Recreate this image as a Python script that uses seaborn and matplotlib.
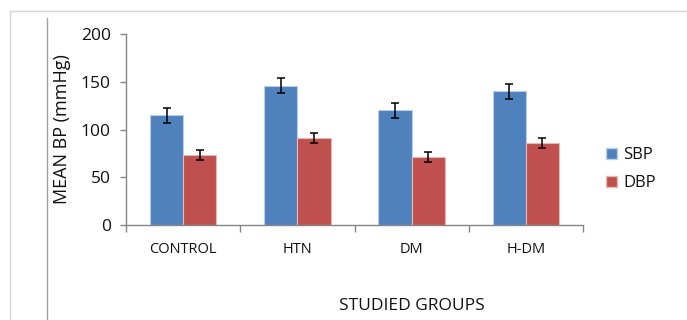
import numpy as np
import pandas as pd
import matplotlib
matplotlib.use("Agg")
import matplotlib.pyplot as plt
from matplotlib.lines import Line2D
from matplotlib.patches import Patch
import seaborn as sns

# data
groups = ["CONTROL", "HTN", "DM", "H-DM"]
series = ["SBP", "DBP"]
sbp_mean = [115, 146, 120, 140]
sbp_err = [8, 8, 7.5, 8]
dbp_mean = [73, 91, 71, 86]
dbp_err = [5.2, 5, 5, 5.2]

colors = ["#4F81BD", "#C0504D"]
edges = ["#b9cde5", "#e6b9b8"]

df = pd.DataFrame({
    "group": groups * 2,
    "series": ["SBP"] * 4 + ["DBP"] * 4,
    "value": sbp_mean + dbp_mean,
})

sns.set_style("white")
plt.rcParams["font.family"] = ["Open Sans", "DejaVu Sans"]

fig = plt.figure(figsize=(6.87, 3.2), dpi=100)
ax = fig.add_axes([126 / 687, 95 / 320, 457 / 687, 191 / 320])

sns.barplot(data=df, x="group", y="value", hue="series", order=groups,
            hue_order=series, palette=colors, saturation=1, width=0.58,
            errorbar=None, legend=False, ax=ax)

# error bars + light bar outlines
errs = [sbp_err, dbp_err]
bar_containers = list(ax.containers)
for i, cont in enumerate(bar_containers):
    xs, ys = [], []
    for p in cont.patches:
        p.set_edgecolor(edges[i])
        p.set_linewidth(0.8)
        xs.append(p.get_x() + p.get_width() / 2)
        ys.append(p.get_height())
    ax.errorbar(xs, ys, yerr=errs[i], fmt="none", ecolor="black",
                elinewidth=1.1, capsize=2.6, capthick=1.1, zorder=5)

ax.set_xlim(-0.5, 3.5)
ax.set_ylim(0, 200)
ax.set_yticks([0, 50, 100, 150, 200])

for s in ["top", "right"]:
    ax.spines[s].set_visible(False)
for s in ["left", "bottom"]:
    ax.spines[s].set_color("#868686")
    ax.spines[s].set_linewidth(1.0)

ax.tick_params(axis="y", direction="out", length=4, width=1, color="#868686",
               pad=7, labelsize=12.5, labelcolor="#111111", left=True)
ax.tick_params(axis="x", which="major", length=0, pad=12, labelsize=10.5,
               labelcolor="#111111")
ax.set_xticks(np.arange(-0.5, 4, 1), minor=True)
ax.tick_params(axis="x", which="minor", direction="out", length=5, width=1,
               color="#868686", bottom=True)

ax.set_ylabel("MEAN BP (mmHg)", fontsize=13, color="#111111")
ax.yaxis.set_label_coords(-0.14, 0.5)
ax.yaxis.label.set_va("center")
ax.set_xlabel("STUDIED GROUPS", fontsize=12.5, color="#111111")
ax.xaxis.set_label_coords(0.625, -0.424)
ax.xaxis.label.set_va("center")

handles = [Patch(facecolor=colors[i], edgecolor=edges[i], label=series[i])
           for i in range(2)]
fig.legend(handles=handles, loc="upper left", bbox_to_anchor=(0.8817, 0.54),
           frameon=False, fontsize=12, handlelength=0.66, handleheight=0.62,
           handletextpad=0.38, labelspacing=0.72, borderpad=0, borderaxespad=0,
           labelcolor="#111111")

# frame lines of the original slide
fig.add_artist(Line2D([10 / 687, 1], [1 - 11 / 320] * 2, color="#d4d4d4", lw=1))
fig.add_artist(Line2D([10 / 687] * 2, [0, 1 - 11 / 320], color="#d4d4d4", lw=1))
fig.add_artist(Line2D([47 / 687] * 2, [0, 1 - 18 / 320], color="#a0a0a0", lw=1))

fig.savefig("out.png", dpi=100)
